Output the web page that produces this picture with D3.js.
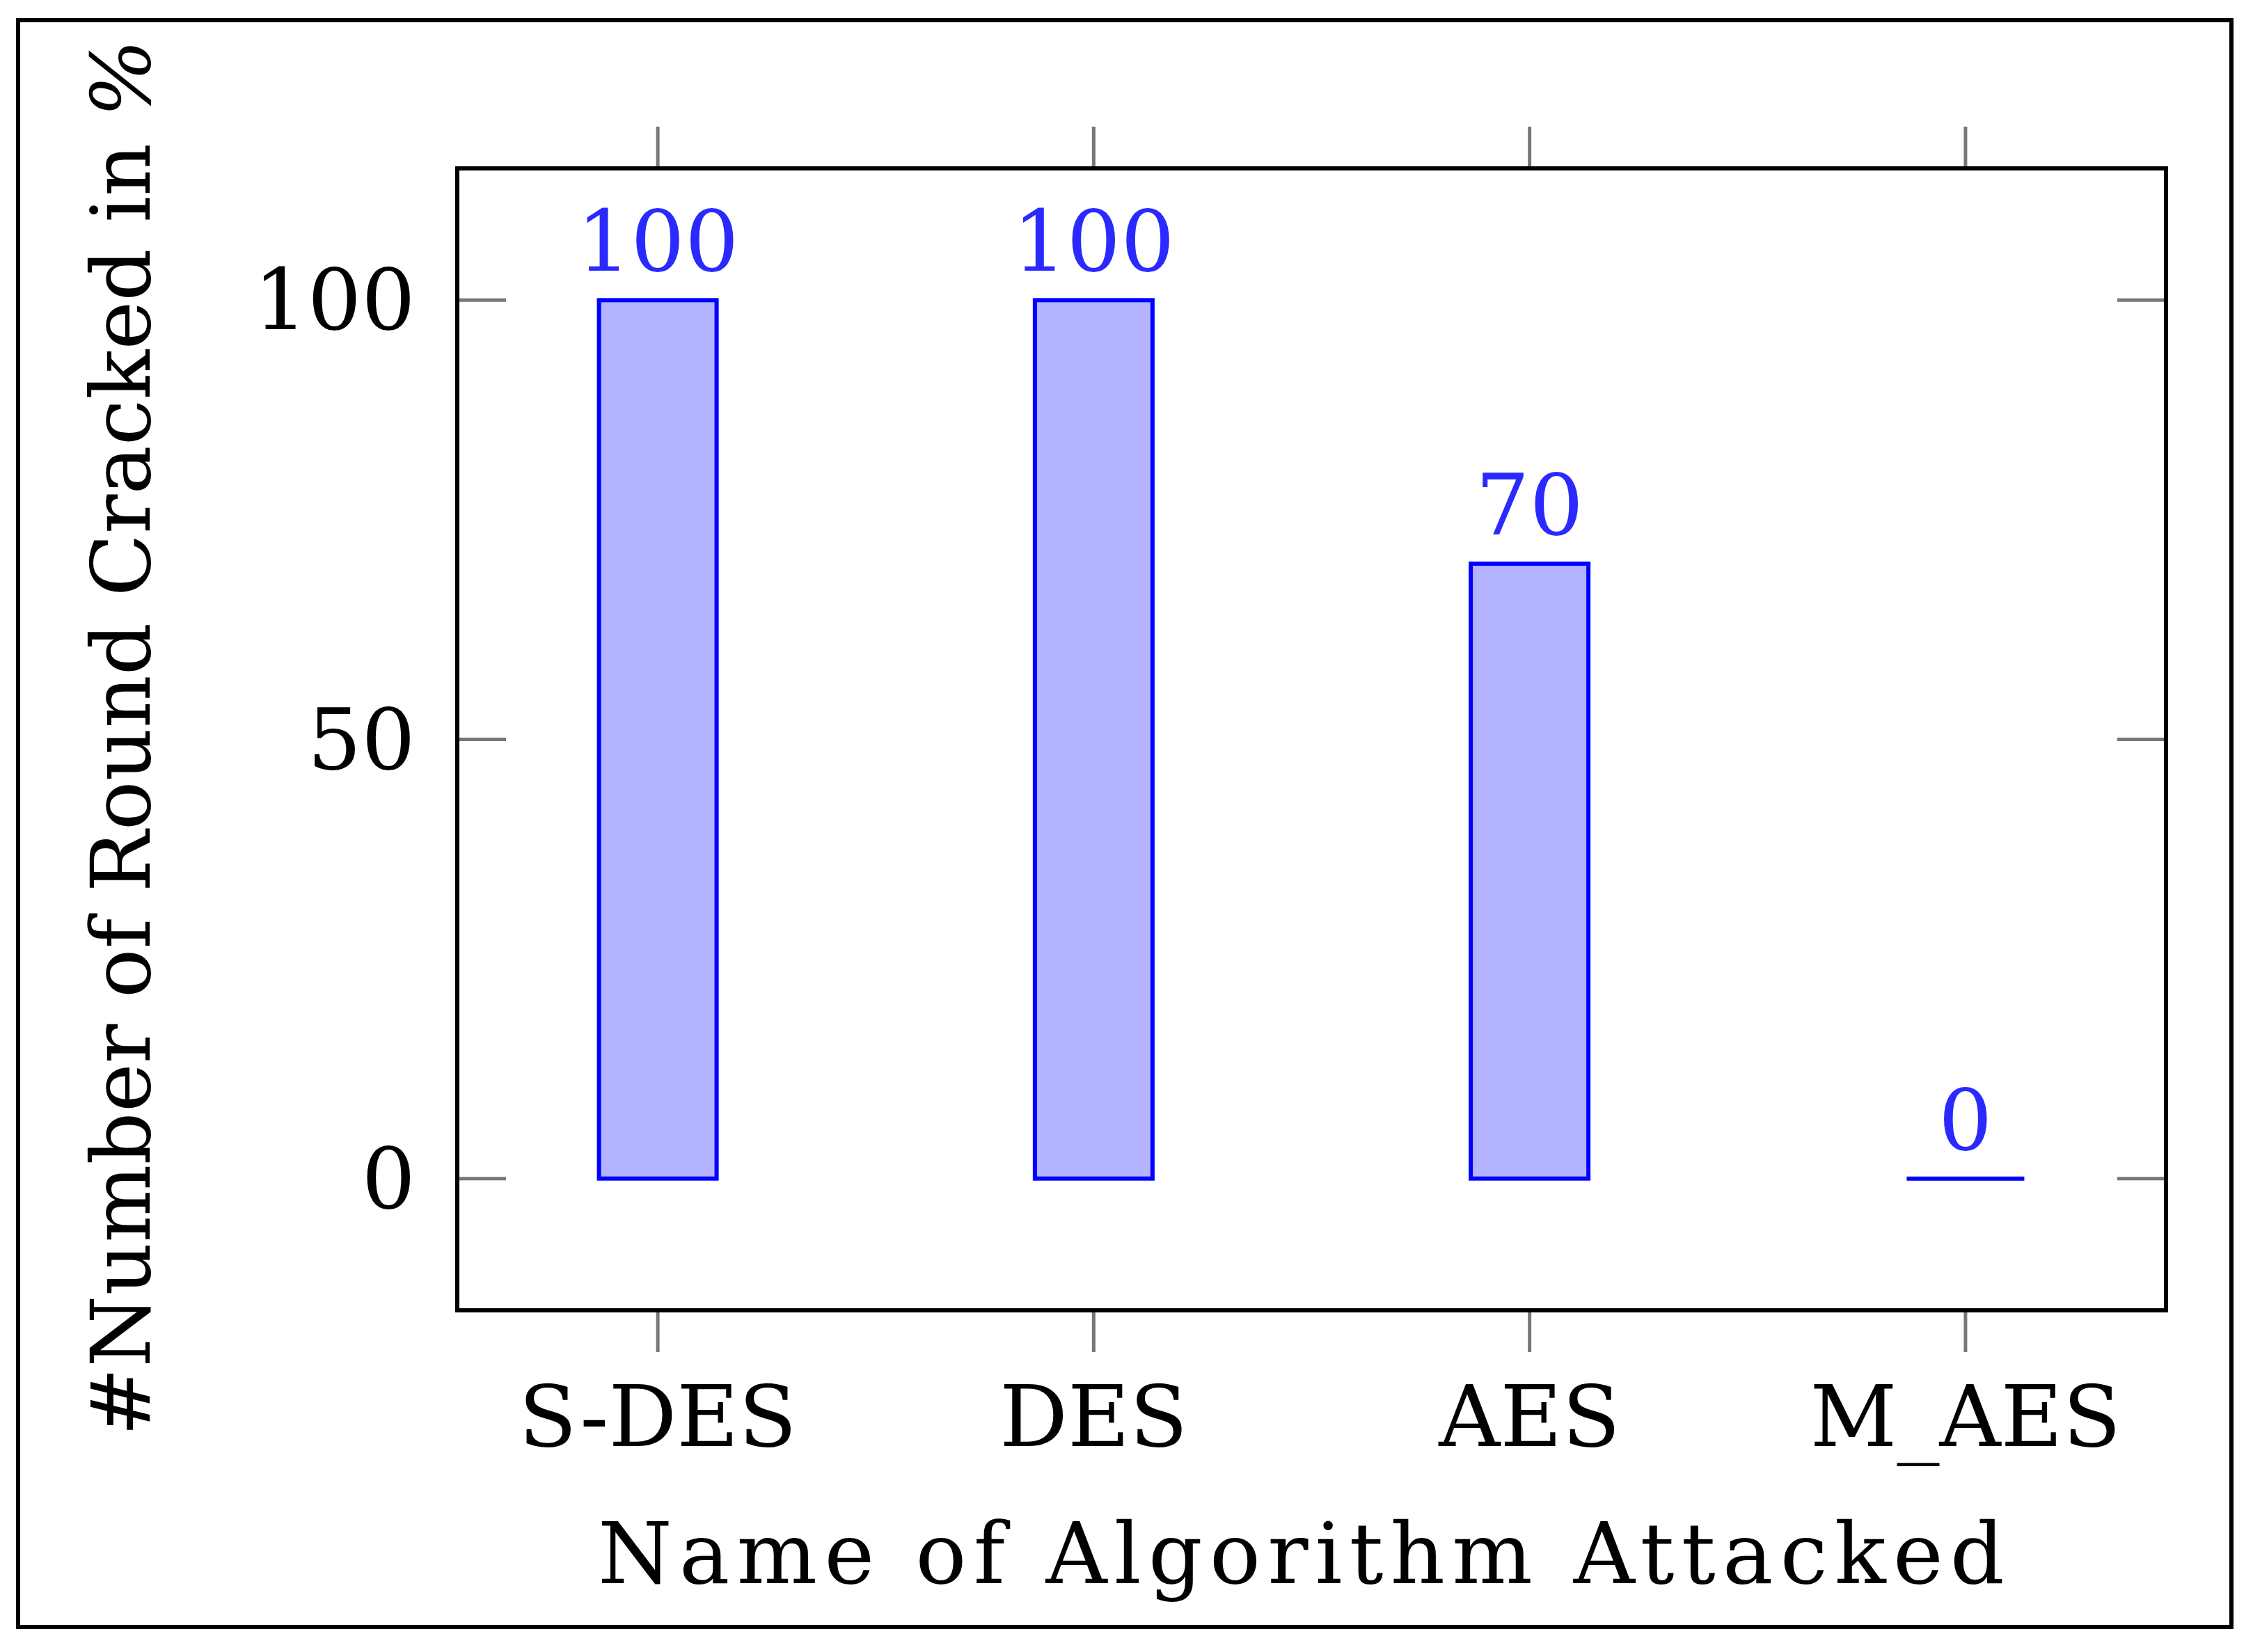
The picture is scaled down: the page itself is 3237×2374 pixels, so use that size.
<!DOCTYPE html>
<html><head><meta charset="utf-8">
<script src="https://cdn.jsdelivr.net/npm/d3@7/dist/d3.min.js"></script>
<style>body{margin:0;background:#fff}</style></head>
<body><svg id="c" width="3237" height="2374"></svg>
<script>
const categories = ["S-DES","DES","AES","M_AES"];
const values = [100,100,70,0];
const yTicks = [0,50,100];
const svg = d3.select("#c");
const font = "'DejaVu Serif',serif";
svg.append("rect").attr("x",26).attr("y",29).attr("width",3180).attr("height",2309)
  .attr("fill","none").attr("stroke","#000").attr("stroke-width",6);
const L=657,R=3112,T=242,B=1883;
const x = d3.scalePoint().domain(categories).range([L,R]).padding(0.46);
const y = d3.scaleLinear().domain([-15,115]).range([B,T]);
const bw = 169;
const g = svg.append("g");
categories.forEach(c=>{
  g.append("line").attr("x1",x(c)).attr("x2",x(c)).attr("y1",T-60).attr("y2",T).attr("stroke","#777").attr("stroke-width",5);
  g.append("line").attr("x1",x(c)).attr("x2",x(c)).attr("y1",B).attr("y2",B+60).attr("stroke","#777").attr("stroke-width",5);
  g.append("text").attr("x",x(c)).attr("y",B+195).attr("text-anchor","middle")
   .attr("font-family",font).attr("font-size",122).text(c);
});
yTicks.forEach(t=>{
  g.append("line").attr("x1",L).attr("x2",L+70).attr("y1",y(t)).attr("y2",y(t)).attr("stroke","#777").attr("stroke-width",5);
  g.append("line").attr("x1",R-70).attr("x2",R).attr("y1",y(t)).attr("y2",y(t)).attr("stroke","#777").attr("stroke-width",5);
  g.append("text").attr("x",L-60).attr("y",y(t)+42).attr("text-anchor","end")
   .attr("font-family",font).attr("font-size",122).text(t);
});
categories.forEach((c,i)=>{
  const v=values[i];
  if (v>0) {
    g.append("rect").attr("x",x(c)-bw/2).attr("y",y(v)).attr("width",bw).attr("height",y(0)-y(v))
     .attr("fill","#b3b3ff").attr("stroke","#0000ff").attr("stroke-width",6);
  } else {
    g.append("line").attr("x1",x(c)-bw/2).attr("x2",x(c)+bw/2).attr("y1",y(v)).attr("y2",y(v))
     .attr("stroke","#0000ff").attr("stroke-width",6);
  }
  g.append("text").attr("x",x(c)).attr("y",y(v)-42).attr("text-anchor","middle")
   .attr("font-family",font).attr("font-size",122).attr("fill","#2a2aff").text(v);
});
svg.append("rect").attr("x",L).attr("y",T).attr("width",R-L).attr("height",B-T)
  .attr("fill","none").attr("stroke","#000").attr("stroke-width",6);
svg.append("text").attr("x",(L+R)/2-10).attr("y",2275).attr("text-anchor","middle")
  .attr("font-family",font).attr("font-size",122).attr("letter-spacing",10).text("Name of Algorithm Attacked");
svg.append("text").attr("transform","translate(215,1060) rotate(-90)").attr("text-anchor","middle")
  .attr("font-family",font).attr("font-size",118).html("#Number of Round Cracked in <tspan font-style='italic'>%</tspan>");
</script></body></html>
